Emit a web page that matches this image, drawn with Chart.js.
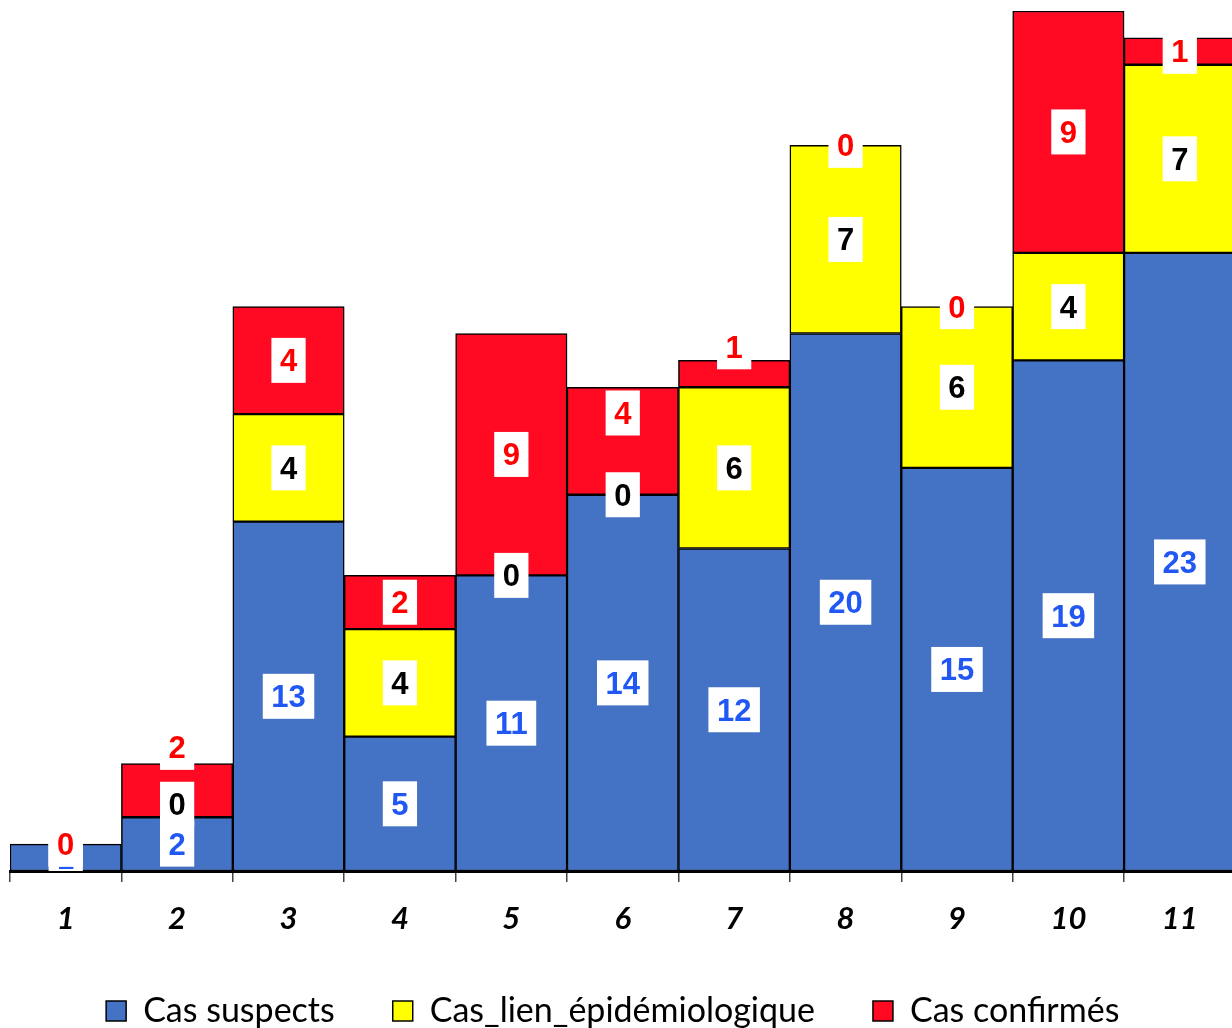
<!DOCTYPE html>
<html>
<head>
<meta charset="utf-8">
<script src="https://cdn.jsdelivr.net/npm/chart.js@4.4.1/dist/chart.umd.min.js"></script>
<style>
  html, body { margin: 0; padding: 0; background: #fff; overflow: hidden; }
  #wrap { position: relative; width: 1240px; height: 1028px; }
</style>
</head>
<body>
<div id="wrap"><canvas id="c"></canvas></div>
<script>
const categories = ['1', '2', '3', '4', '5', '6', '7', '8', '9', '10', '11'];
const casSuspects = [1, 2, 13, 5, 11, 14, 12, 20, 15, 19, 23];
const casLien = [0, 0, 4, 4, 0, 0, 6, 7, 6, 4, 7];
const casConfirmes = [0, 2, 4, 2, 9, 4, 1, 0, 0, 9, 1];
const seriesNames = ['Cas suspects', 'Cas_lien_épidémiologique', 'Cas confirmés'];

const AXIS_Y = 871;      // pixel row of the category axis
const PAD_BOTTOM = -23;  // lets the (tall) legend box hang below the canvas
const LEGEND_Y = 1011;   // wanted centre line of the legend row
const LEGEND_DX = -10;

const legendShift = {
  id: 'legendShift',
  afterLayout(chart) {
    const lg = chart.legend;
    if (!lg) return;
    const lo = lg.options.labels;
    const cur = lg.top + lo.padding + lo.font.size / 2;
    const dy = LEGEND_Y - cur;
    lg.left += LEGEND_DX; lg.right += LEGEND_DX;
    lg.top += dy; lg.bottom += dy;
  }
};

const labelPlugin = {
  id: 'segLabels',
  afterDatasetsDraw(chart, args, opts) {
    const ctx = chart.ctx;
    const area = chart.chartArea;
    ctx.save();
    ctx.beginPath();
    ctx.rect(0, 0, chart.width, area.bottom);
    ctx.clip();
    ctx.font = opts.font;
    ctx.textAlign = 'center';
    ctx.textBaseline = 'alphabetic';
    chart.data.datasets.forEach((ds, di) => {
      const meta = chart.getDatasetMeta(di);
      meta.data.forEach((el, j) => {
        const v = ds.data[j];
        const txt = String(v);
        let cy = (el.y + el.base) / 2;
        const nudge = (opts.nudges || []).find(n => n.d === di && n.i === j);
        if (nudge) cy += nudge.dy;
        const tw = ctx.measureText(txt).width;
        const w = tw + opts.padX * 2;
        const h = opts.boxH;
        ctx.fillStyle = '#ffffff';
        ctx.fillRect(el.x - w / 2, cy - h / 2, w, h);
        ctx.fillStyle = opts.colors[di];
        ctx.fillText(txt, el.x, cy + opts.capHalf);
      });
    });
    ctx.restore();
  }
};

new Chart(document.getElementById('c'), {
  type: 'bar',
  data: {
    labels: categories,
    datasets: [
      { label: seriesNames[0], data: casSuspects, backgroundColor: '#4472c4' },
      { label: seriesNames[1], data: casLien, backgroundColor: '#ffff00' },
      { label: seriesNames[2], data: casConfirmes, backgroundColor: '#ff0a22' }
    ].map(d => Object.assign(d, {
      borderColor: '#000000',
      borderWidth: 1.5,
      borderSkipped: false,
      categoryPercentage: 1,
      barPercentage: 1
    }))
  },
  plugins: [labelPlugin, legendShift],
  options: {
    responsive: true,
    maintainAspectRatio: false,
    animation: false,
    devicePixelRatio: 1,
    layout: { padding: { left: 10, right: 4.5, top: 11, bottom: PAD_BOTTOM } },
    scales: {
      x: {
        stacked: true,
        grid: { display: true, drawOnChartArea: false, drawTicks: true, tickLength: 11, color: '#444', lineWidth: 1.5, offset: true },
        border: { display: true, color: '#000', width: 3 },
        ticks: { color: '#000', padding: 18, font: { family: 'Lato', size: 31, weight: 'bold', style: 'italic' } },
        afterFit(s) {
          const lg = s.chart.legend;
          s.height = s.chart.height - PAD_BOTTOM - AXIS_Y - (lg ? lg.height : 0);
        }
      },
      y: { stacked: true, display: false, min: 0, max: 32 }
    },
    plugins: {
      legend: {
        position: 'bottom',
        labels: {
          color: '#000',
          font: { family: 'Lato', size: 34 },
          boxWidth: 20,
          boxHeight: 20,
          padding: 58
        }
      },
      tooltip: { enabled: false },
      segLabels: {
        font: 'bold 31px "Liberation Sans"',
        padX: 8.5,
        boxH: 45,
        capHalf: 11,
        colors: ['#2157f3', '#000000', '#ff0000'],
        nudges: [
          { d: 1, i: 1, dy: -13 },
          { d: 2, i: 1, dy: -43 },
          { d: 2, i: 5, dy: -28 },
          { d: 2, i: 6, dy: -27 }
        ]
      }
    }
  }
});
</script>
</body>
</html>
